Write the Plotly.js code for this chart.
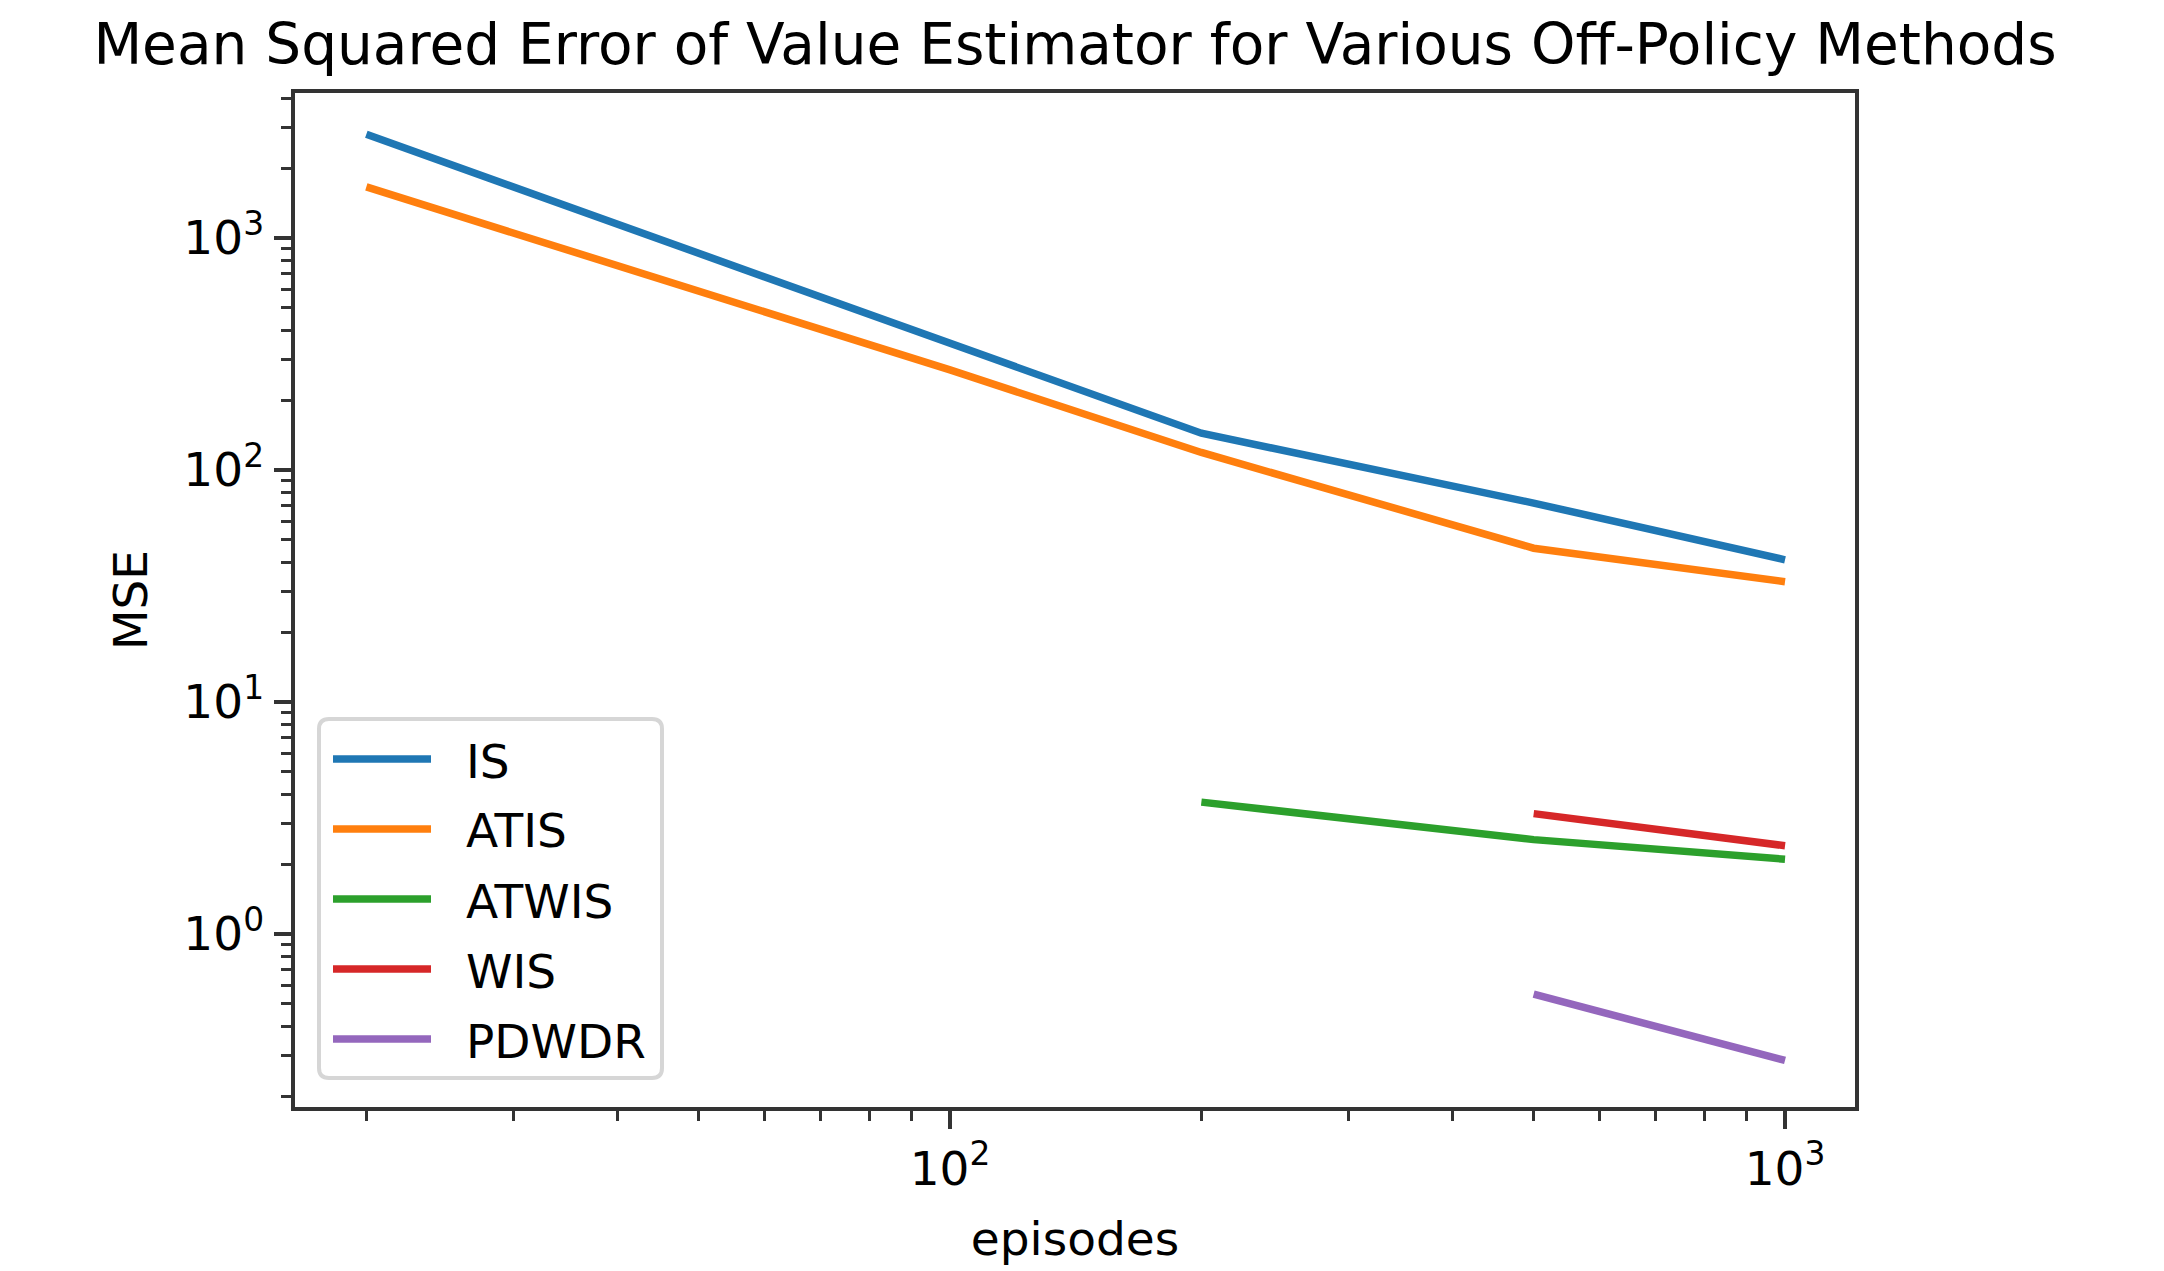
<!DOCTYPE html>
<html><head><meta charset="utf-8">
<script src="https://cdn.plot.ly/plotly-3.0.1.min.js"></script>
<style>html,body{margin:0;padding:0;background:#fff;overflow:hidden}</style>
</head><body><div id="chart" style="width:2164px;height:1271px"></div>
<script>
// ---- data ----
const seriesNames = ['IS', 'ATIS', 'ATWIS', 'WIS', 'PDWDR'];
const seriesColors = ['#1f77b4', '#ff7f0e', '#2ca02c', '#d62728', '#9467bd'];

const episodesIS = [20, 100, 200, 500, 1000];
const mseIS = [2800, 350, 144, 72, 41];

const episodesATIS = [20, 100, 200, 500, 1000];
const mseATIS = [1660, 270, 119, 46, 33];

const episodesATWIS = [200, 500, 1000];
const mseATWIS = [3.7, 2.55, 2.1];

const episodesWIS = [500, 1000];
const mseWIS = [3.3, 2.4];

const episodesPDWDR = [500, 1000];
const msePDWDR = [0.55, 0.285];

const xTickVals = [100, 1000];
const xTickText = ['10<sup>2</sup>', '10<sup>3</sup>'];
const yTickVals = [1, 10, 100, 1000];
const yTickText = ['10<sup>0</sup>', '10<sup>1</sup>', '10<sup>2</sup>', '10<sup>3</sup>'];

const titleText = 'Mean Squared Error of Value Estimator for Various Off-Policy Methods';
const xTitle = 'episodes';
const yTitle = 'MSE';

// ---- layout constants ----
const W = 2164, H = 1271;
const M = {l: 295, r: 309, t: 93, b: 164};
const PW = W - M.l - M.r, PH = H - M.t - M.b;
const FONT = 'DejaVu Sans, Liberation Sans, sans-serif';
const DARK = '#333333';
const FS = 47;

const xs = [episodesIS, episodesATIS, episodesATWIS, episodesWIS, episodesPDWDR];
const ys = [mseIS, mseATIS, mseATWIS, mseWIS, msePDWDR];

const traces = seriesNames.map((n, i) => ({
  type: 'scatter', mode: 'lines', name: n,
  x: xs[i], y: ys[i],
  line: {color: seriesColors[i], width: 7.5},
  showlegend: false, hoverinfo: 'skip'
}));

// custom legend (matplotlib style) in paper coords
const px2x = p => (p - M.l) / PW;
const py2y = p => (H - M.b - p) / PH;
const shapes = [];
const annotations = [];
(function(){
  const x0 = 319, x1 = 662, y0 = 719, y1 = 1078, r = 10;
  const P = (x, y) => px2x(x) + ',' + py2y(y);
  const path = 'M' + P(x0 + r, y0) + ' L' + P(x1 - r, y0) + ' Q' + P(x1, y0) + ' ' + P(x1, y0 + r) +
    ' L' + P(x1, y1 - r) + ' Q' + P(x1, y1) + ' ' + P(x1 - r, y1) +
    ' L' + P(x0 + r, y1) + ' Q' + P(x0, y1) + ' ' + P(x0, y1 - r) +
    ' L' + P(x0, y0 + r) + ' Q' + P(x0, y0) + ' ' + P(x0 + r, y0) + ' Z';
  shapes.push({type: 'path', xref: 'paper', yref: 'paper', path: path,
    line: {color: '#d6d6d6', width: 4}, fillcolor: 'rgba(255,255,255,0.8)', layer: 'above'});
})();
seriesNames.forEach((n, i) => {
  const cy = 759 + i * 70;
  shapes.push({type: 'line', xref: 'paper', yref: 'paper',
    x0: px2x(333), x1: px2x(431), y0: py2y(cy), y1: py2y(cy),
    line: {color: seriesColors[i], width: 7.5}, layer: 'above'});
  annotations.push({xref: 'paper', yref: 'paper', x: px2x(464), y: py2y(cy + 2),
    xanchor: 'left', yanchor: 'middle', text: n, showarrow: false,
    font: {family: FONT, size: FS, color: '#000'}});
});

const axisCommon = {
  type: 'log', showgrid: false, zeroline: false,
  showline: true, linewidth: 4, linecolor: DARK, mirror: true,
  ticks: 'outside', ticklen: 17.5, tickwidth: 4, tickcolor: DARK,
  tickmode: 'array',
  tickfont: {family: FONT, size: FS, color: '#000'},
  minor: {ticks: 'outside', ticklen: 10, tickwidth: 3, tickcolor: DARK, dtick: 'D1', showgrid: false}
};

const layout = {
  width: W, height: H,
  margin: M,
  paper_bgcolor: '#fff', plot_bgcolor: '#fff',
  showlegend: false,
  title: {text: titleText, x: (M.l + PW / 2) / W, xanchor: 'center',
    y: 1 - 44 / H, yanchor: 'middle', yref: 'container',
    font: {family: FONT, size: 56.5, color: '#000'}},
  xaxis: Object.assign({}, axisCommon, {
    range: [1.2156, 3.0838], tickvals: xTickVals, ticktext: xTickText,
    title: {text: xTitle, font: {family: FONT, size: FS, color: '#000'}, standoff: 28}
  }),
  yaxis: Object.assign({}, axisCommon, {
    range: [-0.746, 3.625], tickvals: yTickVals, ticktext: yTickText,
    title: {text: yTitle, font: {family: FONT, size: FS, color: '#000'}, standoff: 22}
  }),
  shapes: shapes,
  annotations: annotations
};

Plotly.newPlot('chart', traces, layout, {staticPlot: true, displayModeBar: false});
</script>
</body></html>
